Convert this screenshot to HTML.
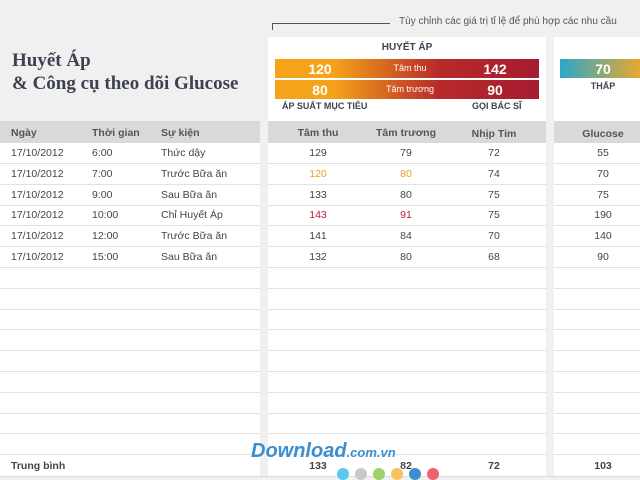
<!DOCTYPE html>
<html><head><meta charset="utf-8"><style>
*{margin:0;padding:0;box-sizing:border-box}
body{width:640px;height:480px;overflow:hidden;background:#f0f0f0;position:relative;font-family:"Liberation Sans",sans-serif;color:#444;font-size:10.5px}
.a{position:absolute;white-space:nowrap}
.c{position:absolute;white-space:nowrap;transform:translateX(-50%)}
.row{position:absolute;height:21px;border-bottom:1px solid #e2e2e2}
</style></head><body>
<div class="a" style="left:12px;top:50px;font:bold 19px 'Liberation Serif',serif;color:#3d4250">Huyết Áp</div>
<div class="a" style="left:12px;top:73px;font:bold 19px 'Liberation Serif',serif;color:#3d4250">&amp; Công cụ theo dõi Glucose</div>

<div class="a" style="left:272px;top:23px;width:118px;border-top:1px solid #555"></div>
<div class="a" style="left:272px;top:23px;height:7px;border-left:1px solid #555"></div>
<div class="a" style="left:399px;top:16px;font-size:10px;color:#555">Tùy chỉnh các giá trị tỉ lệ để phù hợp các nhu cầu</div>

<!-- panels -->
<div class="a" style="left:268px;top:37px;width:278px;height:439px;background:#fff"></div>
<div class="a" style="left:554px;top:37px;width:86px;height:439px;background:#fff"></div>
<div class="a" style="left:0;top:143px;width:260px;height:333px;background:#fff"></div>
<div class="a" style="left:0;top:121px;width:260px;height:22px;background:#d9d9d9"></div>
<div class="a" style="left:268px;top:121px;width:278px;height:22px;background:#d9d9d9"></div>
<div class="a" style="left:554px;top:121px;width:86px;height:22px;background:#d9d9d9"></div>

<div class="c" style="left:407px;top:42px;font-weight:bold;font-size:10px;color:#3d4250">HUYẾT ÁP</div>
<div class="a" style="left:275px;top:59px;width:264px;height:19px;background:linear-gradient(90deg,#f5a31a 0%,#f5a31a 22%,#b82a2a 62%,#a51c30 100%)"></div>
<div class="a" style="left:275px;top:80px;width:264px;height:19px;background:linear-gradient(90deg,#f5a31a 0%,#f5a31a 22%,#b82a2a 62%,#a51c30 100%)"></div>
<div class="c" style="left:320px;top:61px;color:#fff;font-size:14px;font-weight:bold">120</div>
<div class="c" style="left:410px;top:63px;color:#fff;font-size:9px">Tâm thu</div>
<div class="c" style="left:495px;top:61px;color:#fff;font-size:14px;font-weight:bold">142</div>
<div class="c" style="left:320px;top:82px;color:#fff;font-size:14px;font-weight:bold">80</div>
<div class="c" style="left:410px;top:84px;color:#fff;font-size:9px">Tâm trương</div>
<div class="c" style="left:495px;top:82px;color:#fff;font-size:14px;font-weight:bold">90</div>
<div class="a" style="left:282px;top:101px;font-size:9px;font-weight:bold;color:#3d4250">ÁP SUẤT MỤC TIÊU</div>
<div class="a" style="left:472px;top:101px;font-size:9px;font-weight:bold;color:#3d4250">GỌI BÁC SĨ</div>

<div class="a" style="left:560px;top:59px;width:80px;height:19px;background:linear-gradient(90deg,#2aa8c8,#e8a830)"></div>
<div class="c" style="left:603px;top:61px;color:#fff;font-size:14px;font-weight:bold">70</div>
<div class="c" style="left:603px;top:81px;font-size:9px;font-weight:bold;color:#3d4250">THẤP</div>

<!-- headers -->
<div class="a" style="left:11px;top:127px;font-weight:bold;color:#555">Ngày</div>
<div class="a" style="left:92px;top:127px;font-weight:bold;color:#555">Thời gian</div>
<div class="a" style="left:161px;top:127px;font-weight:bold;color:#555">Sự kiện</div>
<div class="c" style="left:318px;top:127px;font-weight:bold;color:#555">Tâm thu</div>
<div class="c" style="left:406px;top:127px;font-weight:bold;color:#555">Tâm trương</div>
<div class="c" style="left:494px;top:128px;font-weight:bold;color:#555">Nhịp Tim</div>
<div class="c" style="left:603px;top:128px;font-weight:bold;color:#555">Glucose</div>

<div id="rows"></div>
<script>
var d=[["17/10/2012","6:00","Thức dậy","129","79","72","55",""],
["17/10/2012","7:00","Trước Bữa ăn","120","80","74","70","#e8a020"],
["17/10/2012","9:00","Sau Bữa ăn","133","80","75","75",""],
["17/10/2012","10:00","Chỉ Huyết Áp","143","91","75","190","#b52030"],
["17/10/2012","12:00","Trước Bữa ăn","141","84","70","140",""],
["17/10/2012","15:00","Sau Bữa ăn","132","80","68","90",""]];
var h="";
for(var i=0;i<15;i++){var y=143+i*20.8;
h+='<div class="row" style="left:0;width:260px;top:'+y+'px"></div><div class="row" style="left:268px;width:278px;top:'+y+'px"></div><div class="row" style="left:554px;width:86px;top:'+y+'px"></div>';
if(d[i]){var r=d[i],t=y+4,c=r[7]?'color:'+r[7]+';':'';
h+='<div class="a" style="left:11px;top:'+t+'px">'+r[0]+'</div><div class="a" style="left:92px;top:'+t+'px">'+r[1]+'</div><div class="a" style="left:161px;top:'+t+'px">'+r[2]+'</div><div class="c" style="left:318px;top:'+t+'px;'+c+'">'+r[3]+'</div><div class="c" style="left:406px;top:'+t+'px;'+c+'">'+r[4]+'</div><div class="c" style="left:494px;top:'+t+'px">'+r[5]+'</div><div class="c" style="left:603px;top:'+t+'px">'+r[6]+'</div>';}}
document.getElementById('rows').innerHTML=h;
</script>
<div class="a" style="left:11px;top:460px;font-weight:bold;color:#444">Trung bình</div>
<div class="c" style="left:318px;top:460px;font-weight:bold">133</div>
<div class="c" style="left:406px;top:460px;font-weight:bold">82</div>
<div class="c" style="left:494px;top:460px;font-weight:bold">72</div>
<div class="c" style="left:603px;top:460px;font-weight:bold">103</div>
<div class="a" style="left:0;top:476px;width:640px;border-top:1px solid #ddd"></div>
<div class="a" style="left:251px;top:440px;font:italic bold 20px 'Liberation Sans',sans-serif;color:#3a8fd0">Download<span style="font-size:13px">.com.vn</span></div>
<div class="a" style="left:337px;top:468px;width:12px;height:12px;border-radius:6px;background:#5cc8f0"></div>
<div class="a" style="left:355px;top:468px;width:12px;height:12px;border-radius:6px;background:#c8c8c8"></div>
<div class="a" style="left:373px;top:468px;width:12px;height:12px;border-radius:6px;background:#9fd06a"></div>
<div class="a" style="left:391px;top:468px;width:12px;height:12px;border-radius:6px;background:#f8c060"></div>
<div class="a" style="left:409px;top:468px;width:12px;height:12px;border-radius:6px;background:#3a8fd0"></div>
<div class="a" style="left:427px;top:468px;width:12px;height:12px;border-radius:6px;background:#f06070"></div>
</body></html>
